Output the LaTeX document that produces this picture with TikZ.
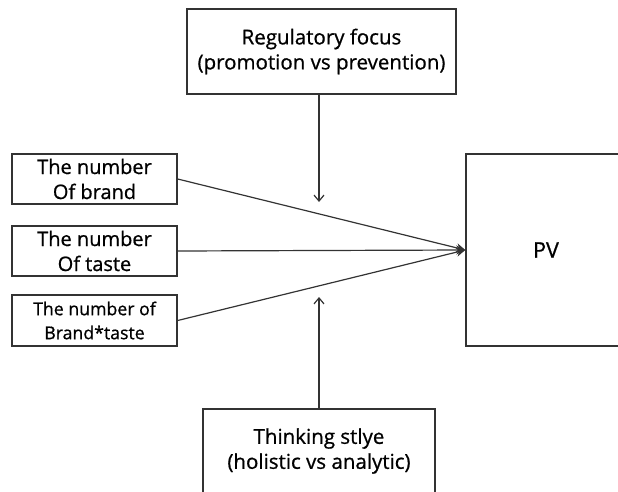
\documentclass[tikz,border=0pt]{standalone}
\usepackage{fontspec}
\setmainfont{Open Sans}[UprightFeatures={FakeBold=0.8}]
\usepackage{tikz}
\usetikzlibrary{arrows.meta}
\definecolor{line-gray}{gray}{0.2}
\newcommand*\toptxt{\fontsize{20.5}{25}\selectfont}
\newcommand*\bigtxt{\fontsize{20}{25}\selectfont}
\newcommand*\smalltxt{\fontsize{17.7}{24}\selectfont}
\newcommand*\pvtxt{\fontsize{21.5}{25}\selectfont}

\begin{document}
\begin{tikzpicture}[x=1pt,y=-1pt,
				box/.style={draw=line-gray,line width=1.4pt,align=center,inner sep=0pt,font=\bigtxt},
				link/.style={draw=line-gray,line width=1.2pt},
				mod/.style={link,-{Straight Barb[length=6pt,width=10pt,line width=1.2pt]}}]
				\clip (0,0) rectangle (618,492);
				\node (reg) [box,minimum width=269pt,minimum height=85pt,font=\toptxt] at (321.5,51.5) {Regulatory focus\\(promotion vs prevention)};
				\node (nbrand) [box,minimum width=165pt,minimum height=50pt] at (94.5,179) {The number\\Of brand};
				\node (ntaste) [box,minimum width=165pt,minimum height=50pt] at (94.5,251) {The number\\Of taste};
				\node (nboth) [box,minimum width=165pt,minimum height=51pt,font=\smalltxt] at (94.5,320.5) {The number of\\Brand*taste};
				\node (pv) [box,minimum width=160pt,minimum height=192pt,font=\pvtxt] at (546,250) {PV};
				\node (think) [box,minimum width=232pt,minimum height=84pt,font=\toptxt] at (319,451) {Thinking stlye\\(holistic vs analytic)};
				\coordinate (regend) at (319,202);
				\coordinate (thinkend) at (319,297);
				\draw[link,-{Stealth[length=9pt,width=9pt]}] (nbrand.east) -- (pv.west);
				\draw[link,-{Stealth[length=9pt,width=9pt]}] (ntaste.east) -- (pv.west);
				\draw[link,-{Stealth[length=9pt,width=9pt]}] (nboth.east) -- (pv.west);
				\draw[mod] (reg.south -| regend) -- (regend);
				\draw[mod] (think.north -| thinkend) -- (thinkend);
\end{tikzpicture}
\end{document}
